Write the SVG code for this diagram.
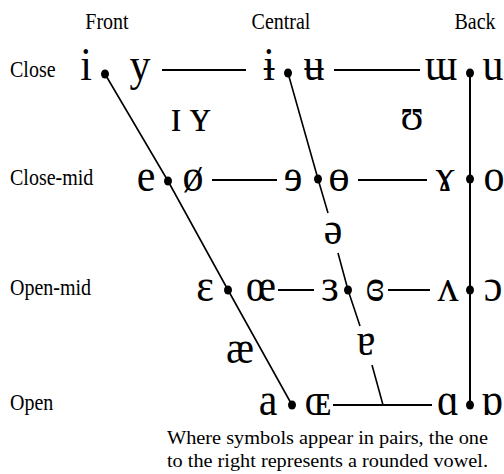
<svg xmlns="http://www.w3.org/2000/svg" width="504" height="474" viewBox="0 0 504 474" font-family="Liberation Serif, DejaVu Serif, serif">
<style>
.lab{font-size:20px}
.cap{font-size:19px}
.v{font-size:42px;text-anchor:middle}
.mid{text-anchor:middle}
.ln{stroke:#000;stroke-width:2;fill:none}
.sl{stroke:#000;stroke-width:1.6;fill:none}
.dot{fill:#000}
</style>
<rect width="504" height="474" fill="#fff"/>
<g id="headers">
<text class="lab mid" transform="translate(107,29) scale(1,1.12)">Front</text>
<text class="lab mid" transform="translate(281,29) scale(1,1.12)">Central</text>
<text class="lab mid" transform="translate(475,29) scale(1,1.12)">Back</text>
<text class="lab" transform="translate(10,77) scale(1,1.12)">Close</text>
<text class="lab" transform="translate(10,185) scale(1,1.12)">Close-mid</text>
<text class="lab" transform="translate(10,295) scale(1,1.12)">Open-mid</text>
<text class="lab" transform="translate(10,410) scale(1,1.12)">Open</text>
</g>
<g id="connectors">
<polyline class="sl" points="105,74 168,181 228,290 292,405"/>
<polyline class="sl" points="288,73 318,179 328,213"/>
<polyline class="sl" points="338,253 348,290 360,326"/>
<line class="sl" x1="372" y1="365" x2="383" y2="405"/>
<line class="ln" x1="470" y1="73" x2="470" y2="405"/>
<line class="ln" x1="162" y1="70" x2="246" y2="70"/>
<line class="ln" x1="334" y1="70" x2="420" y2="70"/>
<line class="ln" x1="212" y1="180" x2="277" y2="180"/>
<line class="ln" x1="358" y1="180" x2="427" y2="180"/>
<line class="ln" x1="278" y1="290" x2="314" y2="290"/>
<line class="ln" x1="388" y1="290" x2="430" y2="290"/>
<line class="ln" x1="333" y1="405" x2="432" y2="405"/>
</g>
<g id="close-front">
<text class="v" transform="translate(86,80) scale(1,1.12)">i</text>
<ellipse class="dot" cx="105" cy="74" rx="4" ry="4.5"/>
<text class="v" transform="translate(140,80) scale(1,1.12)">y</text>
</g>
<g id="close-central">
<text class="v" transform="translate(269,80) scale(1,1.12)">ɨ</text>
<ellipse class="dot" cx="288" cy="73" rx="4" ry="4.5"/>
<text class="v" transform="translate(314,80) scale(1,1.12)">ʉ</text>
</g>
<g id="close-back">
<text class="v" transform="translate(441,80) scale(1,1.12)">ɯ</text>
<ellipse class="dot" cx="470" cy="73" rx="4" ry="4.5"/>
<text class="v" transform="translate(493,80) scale(1,1.12)">u</text>
</g>
<g id="near-close-front">
<text class="v" transform="translate(176,131) scale(1,1.12)">ɪ</text>
<text class="v" transform="translate(200,131) scale(1,1.12)">ʏ</text>
</g>
<g id="near-close-back">
<text class="v" transform="translate(412,130) scale(1,1.12)">ʊ</text>
</g>
<g id="close-mid-front">
<text class="v" transform="translate(146,191) scale(1,1.12)">e</text>
<ellipse class="dot" cx="168" cy="181" rx="4" ry="4.5"/>
<text class="v" transform="translate(193,191) scale(1,1.12)">ø</text>
</g>
<g id="close-mid-central">
<text class="v" transform="translate(293,191) scale(1,1.12)">ɘ</text>
<ellipse class="dot" cx="318" cy="179" rx="4" ry="4.5"/>
<text class="v" transform="translate(339,191) scale(1,1.12)">ɵ</text>
</g>
<g id="close-mid-back">
<text class="v" transform="translate(445,191) scale(1,1.12)">ɤ</text>
<ellipse class="dot" cx="470" cy="179" rx="4" ry="4.5"/>
<text class="v" transform="translate(494,191) scale(1,1.12)">o</text>
</g>
<g id="mid-central">
<text class="v" transform="translate(333,244) scale(1,1.12)">ə</text>
</g>
<g id="open-mid-front">
<text class="v" transform="translate(205,301) scale(1,1.12)">ɛ</text>
<ellipse class="dot" cx="228" cy="290" rx="4" ry="4.5"/>
<text class="v" transform="translate(261,301) scale(1,1.12)">œ</text>
</g>
<g id="open-mid-central">
<text class="v" transform="translate(330,301) scale(1,1.12)">ɜ</text>
<ellipse class="dot" cx="348" cy="290" rx="4" ry="4.5"/>
<text class="v" transform="translate(375,301) scale(1,1.12)">ɞ</text>
</g>
<g id="open-mid-back">
<text class="v" transform="translate(448,301) scale(1,1.12)">ʌ</text>
<ellipse class="dot" cx="470" cy="290" rx="4" ry="4.5"/>
<text class="v" transform="translate(493,301) scale(1,1.12)">ɔ</text>
</g>
<g id="near-open-front">
<text class="v" transform="translate(240,363) scale(1,1.12)">æ</text>
</g>
<g id="near-open-central">
<text class="v" transform="translate(366,355) scale(1,1.12)">ɐ</text>
</g>
<g id="open-front">
<text class="v" transform="translate(268,415) scale(1,1.12)">a</text>
<ellipse class="dot" cx="292" cy="405" rx="4" ry="4.5"/>
<text class="v" transform="translate(318,415) scale(1,1.12)">ɶ</text>
</g>
<g id="open-back">
<text class="v" transform="translate(448,415) scale(1,1.12)">ɑ</text>
<ellipse class="dot" cx="470" cy="405" rx="4" ry="4.5"/>
<text class="v" transform="translate(492,415) scale(1,1.12)">ɒ</text>
</g>
<g id="caption">
<text class="cap" x="167" y="444" textLength="321" lengthAdjust="spacingAndGlyphs">Where symbols appear in pairs, the one</text>
<text class="cap" x="167" y="467" textLength="321" lengthAdjust="spacingAndGlyphs">to the right represents a rounded vowel.</text>
</g>
</svg>
